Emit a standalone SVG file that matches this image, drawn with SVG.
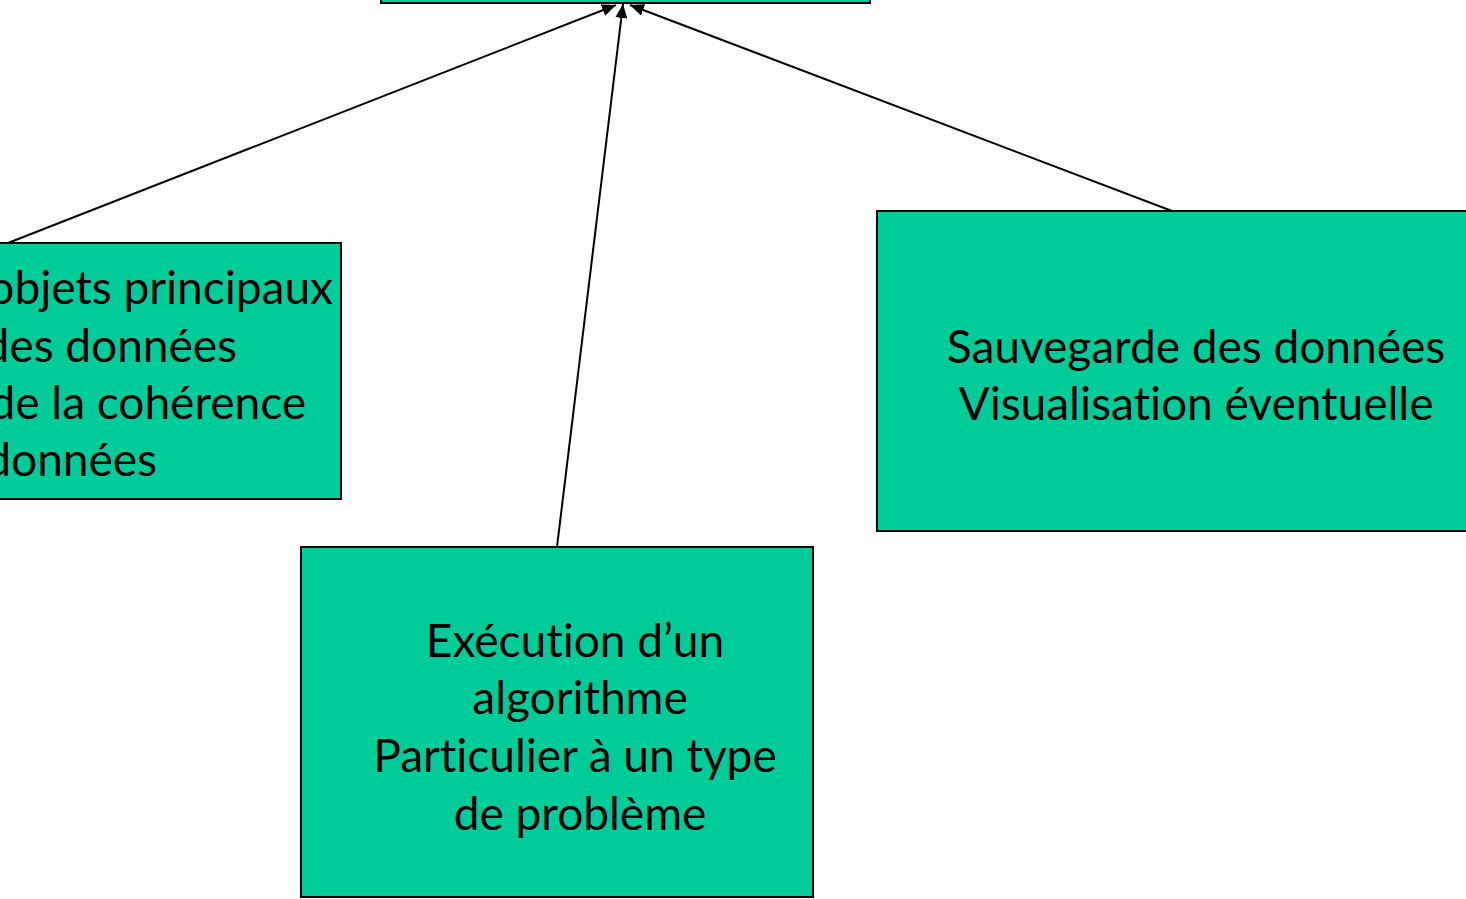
<svg xmlns="http://www.w3.org/2000/svg" width="1466" height="899" viewBox="0 0 1466 899">
  <defs>
    <marker id="arrow" viewBox="0 0 14 12" refX="14" refY="6" markerWidth="14" markerHeight="12" markerUnits="userSpaceOnUse" orient="auto">
      <path d="M0,0 L14,6 L0,12 z" fill="#000"/>
    </marker>
    <style>
      .box { fill: #00CC99; stroke: #000; stroke-width: 2; }
      .lbl { font-family: Lato, "Liberation Sans", sans-serif; font-size: 46px; fill: #000; font-variant-ligatures: none; }
      .mid { text-anchor: middle; }
      .end { text-anchor: end; }
      .edge { stroke: #000; stroke-width: 2; fill: none; marker-end: url(#arrow); }
    </style>
  </defs>
  <rect width="1466" height="899" fill="#fff"/>

  <g id="node-top">
    <rect class="box" x="381" y="-40" width="489" height="43"/>
  </g>

  <g id="node-left">
    <rect class="box" x="-10" y="243" width="351" height="256"/>
    <text class="lbl end" x="333" y="304">objets principaux</text>
    <text class="lbl end" x="237" y="362">des données</text>
    <text class="lbl end" x="306" y="419">de la cohérence</text>
    <text class="lbl end" x="157" y="476">données</text>
  </g>

  <g id="node-right">
    <rect class="box" x="877" y="211" width="600" height="320"/>
    <text class="lbl mid" x="1196" y="363">Sauvegarde des données</text>
    <text class="lbl mid" x="1196" y="420">Visualisation éventuelle</text>
  </g>

  <g id="node-bottom">
    <rect class="box" x="301" y="547" width="512" height="350"/>
    <text class="lbl mid" x="575" y="657">Exécution d’un</text>
    <text class="lbl mid" x="580" y="714">algorithme</text>
    <text class="lbl mid" x="575" y="772">Particulier à un type</text>
    <text class="lbl mid" x="580" y="830">de problème</text>
  </g>

  <g id="connectors">
    <line class="edge" x1="8" y1="243" x2="616" y2="5"/>
    <line class="edge" x1="557" y1="547" x2="623" y2="4"/>
    <line class="edge" x1="1172" y1="211" x2="630" y2="5"/>
  </g>
</svg>
